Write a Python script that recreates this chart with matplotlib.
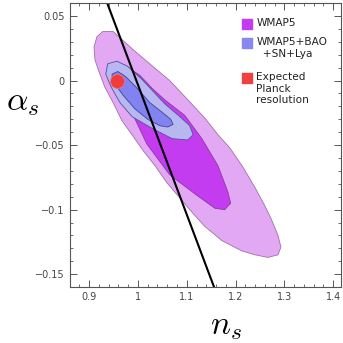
import numpy as np
import matplotlib
matplotlib.use("Agg")
import matplotlib.pyplot as plt
from matplotlib.ticker import MultipleLocator

plt.rcParams['mathtext.fontset'] = 'cm'

# contour outlines (n_s, alpha_s)
wmap95_ns = [0.910, 0.916, 0.928, 0.949, 0.990, 1.024, 1.065, 1.100, 1.137, 1.164,
             1.188, 1.215, 1.240, 1.260, 1.274, 1.287, 1.293, 1.287, 1.266, 1.240,
             1.213, 1.172, 1.137, 1.113, 1.086, 1.059, 1.035, 1.010, 0.988, 0.967,
             0.949, 0.932, 0.920, 0.912]
wmap95_as = [0.026, 0.034, 0.038, 0.038, 0.024, 0.013, 0.000, -0.014, -0.029, -0.042,
             -0.052, -0.067, -0.083, -0.097, -0.108, -0.120, -0.129, -0.135, -0.137, -0.135,
             -0.132, -0.124, -0.113, -0.103, -0.091, -0.079, -0.066, -0.054, -0.042, -0.031,
             -0.017, -0.005, 0.007, 0.016]

wmap68_ns = [0.955, 0.973, 1.004, 1.029, 1.055, 1.096, 1.131, 1.164, 1.184, 1.190,
             1.178, 1.158, 1.121, 1.065, 1.018, 0.988, 0.967, 0.955]
wmap68_as = [0.008, 0.012, 0.004, -0.006, -0.015, -0.027, -0.045, -0.066, -0.086, -0.095,
             -0.100, -0.099, -0.089, -0.073, -0.049, -0.025, -0.010, 0.000]

bao95_ns = [0.938, 0.957, 0.979, 1.008, 1.035, 1.055, 1.086, 1.106, 1.113, 1.102,
            1.070, 1.029, 0.988, 0.963, 0.945, 0.934]
bao95_as = [0.013, 0.015, 0.011, 0.001, -0.010, -0.018, -0.028, -0.035, -0.042, -0.046,
            -0.045, -0.037, -0.028, -0.017, -0.005, 0.005]

bao68_ns = [0.947, 0.959, 0.975, 0.996, 1.024, 1.051, 1.067, 1.072, 1.061, 1.045,
            1.020, 0.994, 0.971, 0.955, 0.947]
bao68_as = [0.005, 0.007, 0.003, -0.005, -0.017, -0.025, -0.030, -0.034, -0.036, -0.035,
            -0.030, -0.022, -0.012, -0.004, 0.001]

planck_ns = [0.958]
planck_as = [0.0]

line_ns = [0.937, 1.156]
line_as = [0.06, -0.16]

legend_labels = ["WMAP5", "WMAP5+BAO\n  +SN+Lya", "Expected\nPlanck\nresolution"]
legend_colors = ["#c43cf0", "#8888f0", "#f04040"]


def tick_fmt(v, pos):
    return ('%g' % round(v, 2)).replace('-', '\u2212')


fig = plt.figure(figsize=(3.43, 3.43), dpi=100)
ax = fig.add_axes([0.203, 0.163, 0.791, 0.828])

ax.fill(wmap95_ns, wmap95_as, facecolor="#e3a8f3", edgecolor="#a070a8", lw=0.6)
ax.fill(wmap68_ns, wmap68_as, facecolor="#c43cf0", edgecolor="#8a3aa0", lw=0.6)
ax.fill(bao95_ns, bao95_as, facecolor="#b8b8f0", edgecolor="#5050a0", lw=0.6)
ax.fill(bao68_ns, bao68_as, facecolor="#8282f0", edgecolor="#4040a0", lw=0.6)
ax.plot(planck_ns, planck_as, 'o', ms=10, color="#f03c3c", mec="#f07070", mew=0.6)
ax.plot(line_ns, line_as, color='k', lw=1.5)

ax.set_xlim(0.86, 1.416)
ax.set_ylim(-0.16, 0.06)

ax.xaxis.set_major_locator(MultipleLocator(0.1))
ax.xaxis.set_minor_locator(MultipleLocator(0.02))
ax.yaxis.set_major_locator(MultipleLocator(0.05))
ax.yaxis.set_minor_locator(MultipleLocator(0.01))
ax.xaxis.set_major_formatter(plt.FuncFormatter(tick_fmt))
ax.yaxis.set_major_formatter(plt.FuncFormatter(tick_fmt))
ax.tick_params(which='both', direction='in', top=True, right=True, color='#555555',
               labelsize=7, labelcolor='#444444')
ax.tick_params(which='major', length=5, width=0.7)
ax.tick_params(which='minor', length=2.5, width=0.6)
for s in ax.spines.values():
    s.set_color('#555555')
    s.set_linewidth(0.8)

fig.text(0.66, 0.05, r"$n_s$", fontsize=24, ha='center', va='center')
fig.text(0.065, 0.705, r"$\alpha_s$", fontsize=24, ha='center', va='center')

# legend drawn by hand so the swatch sits on the first text line
leg_y = [0.926, 0.859, 0.736]
for lab, col, yy in zip(legend_labels, legend_colors, leg_y):
    ax.scatter([0.655], [yy], marker='s', s=60, color=col, transform=ax.transAxes, zorder=5)
    ax.text(0.688, yy + 0.02, lab, transform=ax.transAxes, fontsize=7.6, va='top',
            ha='left', color='#222222', linespacing=1.15)

fig.savefig("out.png", dpi=100)
